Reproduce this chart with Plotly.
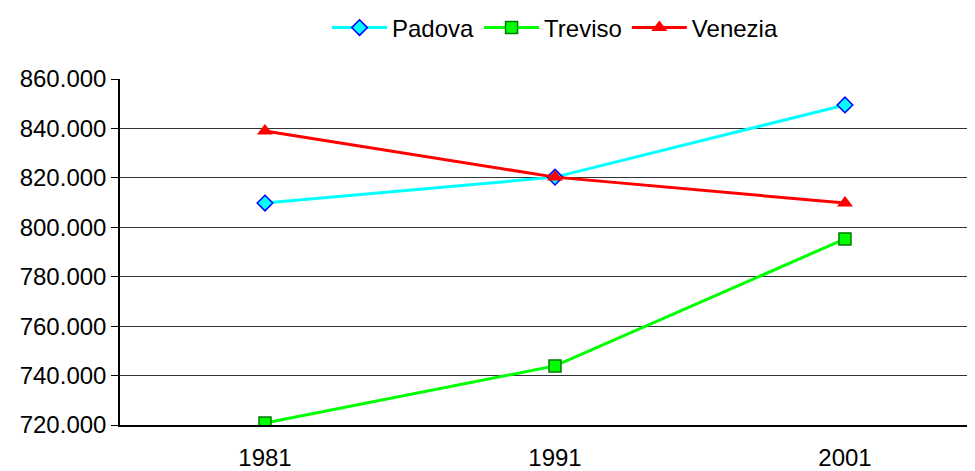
import plotly.graph_objects as go

years = ["1981", "1991", "2001"]
padova = [809800, 820300, 849500]
treviso = [720800, 743900, 795300]
venezia = [839000, 820300, 809800]

y_ticks = [720000, 740000, 760000, 780000, 800000, 820000, 840000, 860000]

_FONT = "Liberation Sans, Arial, sans-serif"

# the page body adds an 8px margin, so the figure is offset to match the window
fig = go.Figure()
fig.add_trace(
    go.Scatter(
        x=years,
        y=padova,
        name="Padova",
        mode="lines+markers",
        line={"color": "#00FFFF", "width": 3},
        marker={"symbol": "diamond", "size": 12, "color": "#00FFFF",
                "line": {"color": "#0000FF", "width": 1.5}},
    )
)
fig.add_trace(
    go.Scatter(
        x=years,
        y=treviso,
        name="Treviso",
        mode="lines+markers",
        line={"color": "#00FF00", "width": 3},
        marker={"symbol": "square", "size": 12, "color": "#00FF00",
                "line": {"color": "#007A00", "width": 1.5}},
    )
)
fig.add_trace(
    go.Scatter(
        x=years,
        y=venezia,
        name="Venezia",
        mode="lines+markers",
        line={"color": "#FF0000", "width": 3},
        marker={"symbol": "triangle-up", "size": 14, "color": "#FF0000",
                "line": {"color": "#FF0000", "width": 0}},
    )
)

fig.update_layout(
    width=975,
    height=463,
    plot_bgcolor="#ffffff",
    paper_bgcolor="#ffffff",
    font={"family": _FONT, "size": 24, "color": "#000000"},
    separators=",.",
    margin={"l": 112, "r": 0, "t": 71, "b": 46},
    showlegend=True,
    legend={
        "orientation": "h",
        "xref": "container",
        "yref": "container",
        "x": 547 / 975,
        "xanchor": "center",
        "y": 1 - 20 / 463,
        "yanchor": "middle",
        "font": {"size": 24},
        "itemwidth": 55,
        "tracegroupgap": 0,
    },
    xaxis={
        "type": "category",
        "range": [-0.5, 2.476],
        "showgrid": False,
        "showline": True,
        "linecolor": "#000000",
        "linewidth": 1.5,
        "ticks": "",
        "ticklabelstandoff": 10,
        "zeroline": False,
    },
    yaxis={
        "range": [720000, 860000],
        "tickvals": y_ticks,
        "tickformat": ",d",
        "showgrid": True,
        "gridcolor": "#333333",
        "gridwidth": 1,
        "showline": True,
        "linecolor": "#000000",
        "linewidth": 1.5,
        "ticks": "outside",
        "ticklen": 7,
        "tickcolor": "#000000",
        "zeroline": False,
    },
)

fig.write_html("out.html")
